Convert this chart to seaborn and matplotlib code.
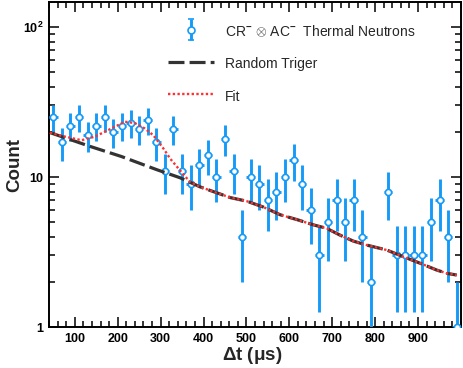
import numpy as np
import pandas as pd
import matplotlib
matplotlib.use("Agg")
import matplotlib.pyplot as plt
import seaborn as sns
from matplotlib.ticker import FixedLocator, FixedFormatter, MultipleLocator, LogLocator, NullFormatter
from matplotlib.container import ErrorbarContainer
from matplotlib.legend_handler import HandlerErrorbar

# Histogram bins (bin centres, 20 us wide) and counts
bin_centers = list(range(50, 1000, 20))
counts = [25, 17, 22, 25, 19, 22, 25, 20, 22, 23, 21, 24,
          17, 11, 21, 11, 9, 12, 14, 10, 18, 11, 4, 10,
          9, 7, 8, 10, 13, 9, 6, 3, 5, 7, 5, 7,
          4, 2, 0, 8, 3, 3, 3, 3, 5, 7, 4, 1]

# Random trigger curve
bg_x = [42, 136, 209, 291, 345, 392, 462, 501, 540, 579, 618, 656,
        687, 718, 749, 780, 827, 866, 905, 943, 967, 990]
bg_y = [19.8, 16.0, 13.7, 11.2, 9.9, 8.6, 7.3, 6.9, 6.3, 5.6, 5.2, 4.8,
        4.55, 4.1, 3.74, 3.52, 3.26, 2.94, 2.66, 2.4, 2.28, 2.22]

# Fit curve
fit_x = [42, 77, 116, 147, 186, 217, 240, 263, 283, 296, 308, 322, 345, 368,
         392, 462, 501, 540, 579, 618, 656, 687, 718, 749, 780, 827, 866,
         905, 943, 967, 990]
fit_y = [19.8, 18.6, 17.6, 18.6, 21.1, 23.4, 22.9, 21.1, 19.0, 17.0, 15.3,
         13.3, 11.1, 9.3, 8.6, 7.3, 6.9, 6.3, 5.6, 5.2, 4.8, 4.55, 4.1, 3.74,
         3.52, 3.26, 2.94, 2.66, 2.4, 2.28, 2.22]

x_tick_vals = [100, 200, 300, 400, 500, 600, 700, 800, 900]
y_tick_vals = [1, 10, 100]
y_tick_labels = ["1", "10", "$\\mathbf{10^{2}}$"]

sns.set_style("ticks")
plt.rcParams["font.family"] = ["Liberation Sans", "DejaVu Sans"]
plt.rcParams["mathtext.fontset"] = "custom"
plt.rcParams["mathtext.rm"] = "Liberation Sans"
plt.rcParams["mathtext.bf"] = "Liberation Sans:bold"
plt.rcParams["mathtext.it"] = "Liberation Sans:italic"

blue = "#159bf7"

df = pd.DataFrame({"t": bin_centers, "n": counts})
df = df[df["n"] > 0]
err = np.sqrt(df["n"].values)
lower = np.minimum(err, df["n"].values * 0.999)

fig = plt.figure(figsize=(4.63, 3.68), dpi=100)
ax = fig.add_axes([49 / 463, 41 / 368, 412 / 463, 325 / 368])

ax.errorbar(df["t"], df["n"], yerr=[lower, err], xerr=10, fmt="none",
            ecolor=blue, elinewidth=2.1, capsize=0, zorder=3)
sns.scatterplot(data=df, x="t", y="n", ax=ax, marker="o", s=20,
                facecolor="white", edgecolor=blue, linewidth=1.2, zorder=4)

sns.lineplot(x=bg_x, y=bg_y, ax=ax, color="#333333", lw=2.3,
             linestyle=(0, (5, 1.6)), zorder=5)
sns.lineplot(x=fit_x, y=fit_y, ax=ax, color="#ff3030", lw=1.7,
             linestyle=(0, (1, 1)), zorder=6)

ax.set_yscale("log")
ax.set_xlim(40, 1000)
ax.set_ylim(1, 147)

ax.xaxis.set_major_locator(FixedLocator(x_tick_vals))
ax.xaxis.set_minor_locator(MultipleLocator(20))
ax.yaxis.set_major_locator(FixedLocator(y_tick_vals))
ax.yaxis.set_major_formatter(FixedFormatter(y_tick_labels))
ax.yaxis.set_minor_locator(LogLocator(base=10, subs=range(2, 10)))
ax.yaxis.set_minor_formatter(NullFormatter())

ax.tick_params(which="both", direction="in", top=True, right=True,
               width=1.1, colors="black")
ax.tick_params(which="major", length=7, labelsize=9, pad=4)
ax.tick_params(which="minor", length=4)
for lab in ax.get_xticklabels() + ax.get_yticklabels():
    lab.set_fontweight("bold")
for sp in ax.spines.values():
    sp.set_linewidth(1.4)
    sp.set_color("black")

ax.set_xlabel("$\\mathbf{\\Delta}$t ($\\mathbf{\\mu}$s)", fontsize=13.5, fontweight="bold")
ax.set_ylabel("Count", fontsize=13.5, fontweight="bold")
ax.xaxis.set_label_coords(0.493, -0.055)
ax.yaxis.set_label_coords(-0.062, 0.5)

# legend
dummy = ax.errorbar([np.nan], [np.nan], yerr=[1], fmt="o", ms=5, mfc="white",
                    mec=blue, mew=1.2, ecolor=blue, elinewidth=2.1, capsize=2.5, capthick=2)
bg_handle = plt.Line2D([], [], color="#333333", lw=2.3, linestyle=(0, (5, 1.6)))
fit_handle = plt.Line2D([], [], color="#ff3030", lw=1.7, linestyle=(0, (1, 1)))
ax.legend([dummy, bg_handle, fit_handle],
          ["CR$^{\\mathbf{-}}$ $\\otimes$ AC$^{\\mathbf{-}}$  Thermal Neutrons",
           "Random Triger", "Fit"],
          handler_map={ErrorbarContainer: HandlerErrorbar(yerr_size=0.78)},
          loc="upper left", bbox_to_anchor=(168 / 463, 1 - 23 / 368),
          bbox_transform=fig.transFigure, frameon=False, fontsize=10,
          handlelength=3.3, handletextpad=0.8, labelspacing=1.1,
          handleheight=1.5, borderpad=0, borderaxespad=0)

fig.savefig("out.png", dpi=100)
